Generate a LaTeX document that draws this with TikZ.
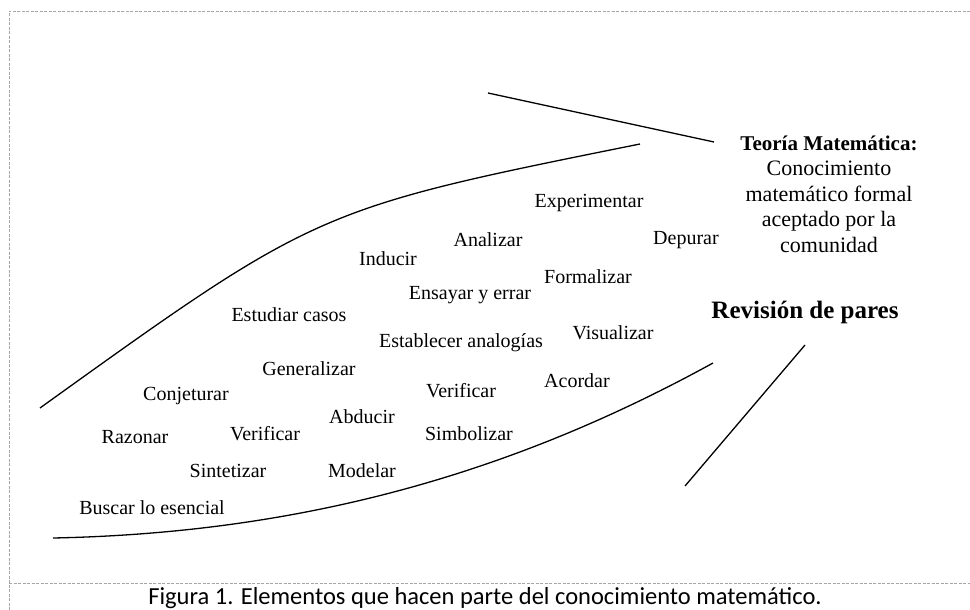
\documentclass[tikz,border=0pt]{standalone}
\usepackage{fontspec}
\setmainfont{Liberation Serif}
\newfontfamily\capfont{Carlito}
\usepackage{xcolor}

\begin{document}
\begin{tikzpicture}[x=1pt,y=-1pt,
    verb/.style={inner sep=0pt,font=\fontsize{20}{24}\selectfont},
    stroke/.style={black,line width=1.3pt},
    frame/.style={gray!70,line width=0.6pt,dash pattern=on 3pt off 1.5pt}]
\useasboundingbox (0,0) rectangle (970,610);

    % marco
    \draw[frame] (970,11) -- (9,11) -- (9,610);
    \draw[frame] (9,583) -- (970,583);

    % lineas
    \draw[stroke] (488,93) -- (714,142);
    \draw[stroke] (40,408) .. controls (317,209) .. (640,144);
    \draw[stroke] (53,538) .. controls (303,533) and (513,473) .. (713,363);
    \draw[stroke] (805,345) -- (685,486);

    % verbos
    \node[verb] (exp) at (589,203) {Experimentar};
    \node[verb] (ana) at (488,240) {Analizar};
    \node[verb] (dep) at (686,240) {Depurar};
    \node[verb] (ind) at (388,259) {Inducir};
    \node[verb] (for) at (588,277) {Formalizar};
    \node[verb] (ens) at (470,295) {Ensayar y errar};
    \node[verb] (est) at (289,315) {Estudiar casos};
    \node[verb] (vis) at (613,333) {Visualizar};
    \node[verb] (ana2) at (461,343) {Establecer analogías};
    \node[verb] (gen) at (309,369) {Generalizar};
    \node[verb] (aco) at (577,381) {Acordar};
    \node[verb] (ver2) at (461,391) {Verificar};
    \node[verb] (con) at (186,396) {Conjeturar};
    \node[verb] (abd) at (362,417) {Abducir};
    \node[verb] (raz) at (135,437) {Razonar};
    \node[verb] (ver1) at (265,434) {Verificar};
    \node[verb] (sim) at (469,434) {Simbolizar};
    \node[verb] (sin) at (228,471) {Sintetizar};
    \node[verb] (mod) at (362,471) {Modelar};
    \node[verb] (bus) at (152,508) {Buscar lo esencial};

    % teoria y revision
    \node[inner sep=0pt,align=center,font=\fontsize{22}{25.5}\selectfont] (teo) at (829,194)
        {{\fontsize{21}{25.5}\selectfont\textbf{Teoría Matemática:}}\\Conocimiento\\matemático formal\\aceptado por la\\comunidad};
    \node[inner sep=0pt,font=\fontsize{25}{30}\selectfont\bfseries] (rev) at (805,312) {Revisión de pares};

    % pie
    \node[inner sep=0pt,font=\capfont\fontsize{24.5}{29}\selectfont] (pie) at (485,598)
        {Figura 1. Elementos que hacen parte del conocimiento matemático.};
\end{tikzpicture}
\end{document}
